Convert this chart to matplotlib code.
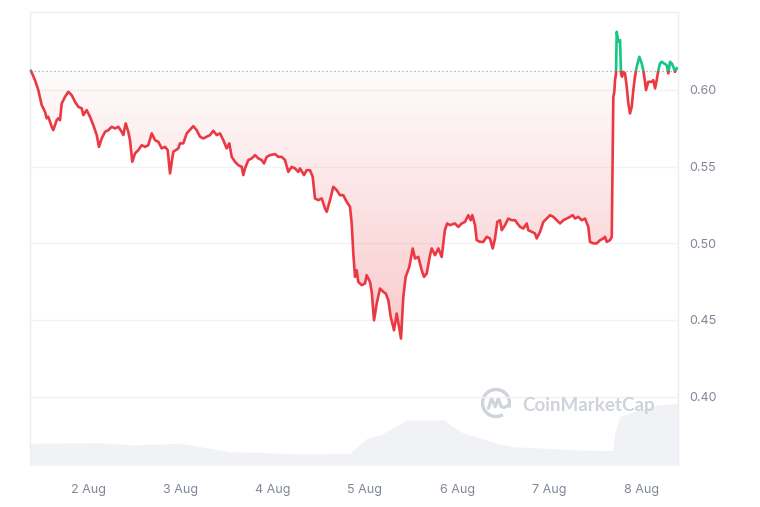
import numpy as np
import matplotlib
matplotlib.use("Agg")
import matplotlib.pyplot as plt
from matplotlib.patches import Rectangle, Arc
from matplotlib.colors import LinearSegmentedColormap

# ---- data: hours since 1 Aug 00:00 and price (USD) ----
hours = [9.09, 10.13, 10.99, 11.87, 12.73, 13.17, 13.59, 14.48, 14.89, 15.78, 16.19, 16.64, 17.08, 17.94,
         18.80, 19.68, 20.54, 21.40, 22.28, 22.70, 23.58, 24.44, 25.30, 26.19, 26.78, 27.49, 28.35, 29.20,
         30.09, 30.95, 31.81, 32.69, 33.11, 33.73, 34.41, 34.85, 35.45, 36.15, 37.01, 37.90, 38.75, 39.61,
         40.50, 41.36, 42.22, 43.10, 43.96, 44.66, 45.26, 46.12, 47.42, 47.86, 48.72, 49.61, 51.32, 52.21,
         53.07, 53.93, 54.81, 55.67, 56.53, 57.41, 58.27, 59.13, 60.01, 60.69, 61.32, 62.17, 63.03, 63.92,
         64.33, 64.78, 65.64, 66.52, 67.38, 68.24, 69.12, 69.72, 70.42, 71.28, 72.58, 73.44, 74.33, 75.19,
         76.04, 76.93, 77.79, 78.65, 79.09, 80.13, 80.83, 81.69, 82.39, 82.99, 83.85, 84.74, 85.59, 86.04,
         86.90, 87.75, 88.64, 89.50, 90.36, 91.24, 92.10, 92.54, 92.96, 93.40, 93.84, 94.26, 95.14, 96.00,
         96.44, 97.30, 97.75, 98.35, 99.05, 99.91, 100.77, 101.39, 102.07, 102.69, 103.55, 104.25, 104.85,
         105.37, 105.97, 106.59, 107.53, 108.41, 109.01, 109.87, 110.76, 111.36, 112.06, 112.92, 113.36,
         114.22, 115.08, 115.96, 116.78, 117.38, 118.09, 119.39, 120.28, 121.16, 122.02, 122.88, 123.51,
         123.92, 124.63, 125.07, 125.93, 126.79, 127.67, 128.53, 129.23, 129.83, 130.43, 131.13, 131.58,
         132.43, 133.29, 134.18, 135.04, 135.64, 136.34, 137.20, 138.08, 138.50, 139.38, 140.24, 140.68,
         141.54, 142.40, 143.29, 144.15, 145.01, 145.89, 146.75, 147.61, 148.49, 149.35, 150.05, 150.65,
         151.51, 152.40, 153.25, 154.11, 154.55, 155.41, 156.30, 157.16, 158.02, 158.46, 158.90, 159.76,
         160.21, 160.47, 160.62, 160.88, 161.06, 161.32, 161.50, 161.84, 162.10, 162.36, 162.62, 162.88,
         163.22, 163.66, 164.10, 164.52, 164.96, 165.40, 165.82, 166.26, 166.70, 167.38, 168.00, 168.42,
         168.86, 169.12, 169.72, 170.61, 171.02, 171.47, 171.91, 172.33, 172.77, 173.21, 173.81, 174.51,
         174.93, 175.37, 175.82, 176.23, 176.67, 177.12]
price = [0.6124, 0.6063, 0.5998, 0.5900, 0.5857, 0.5814, 0.5824, 0.5759, 0.5737, 0.5802, 0.5814, 0.5802,
         0.5911, 0.5954, 0.5987, 0.5965, 0.5922, 0.5889, 0.5879, 0.5835, 0.5868, 0.5824, 0.5770, 0.5705,
         0.5628, 0.5683, 0.5726, 0.5737, 0.5759, 0.5748, 0.5759, 0.5726, 0.5705, 0.5781, 0.5726, 0.5672,
         0.5531, 0.5585, 0.5607, 0.5639, 0.5628, 0.5639, 0.5716, 0.5672, 0.5661, 0.5618, 0.5628, 0.5607,
         0.5455, 0.5596, 0.5618, 0.5651, 0.5651, 0.5716, 0.5763, 0.5737, 0.5694, 0.5683, 0.5694, 0.5705,
         0.5733, 0.5705, 0.5716, 0.5672, 0.5618, 0.5651, 0.5563, 0.5531, 0.5509, 0.5498, 0.5444, 0.5488,
         0.5542, 0.5553, 0.5574, 0.5553, 0.5542, 0.5520, 0.5563, 0.5574, 0.5581, 0.5563, 0.5563, 0.5542,
         0.5465, 0.5498, 0.5488, 0.5465, 0.5488, 0.5444, 0.5476, 0.5476, 0.5433, 0.5292, 0.5281, 0.5292,
         0.5227, 0.5205, 0.5281, 0.5368, 0.5346, 0.5313, 0.5313, 0.5270, 0.5237, 0.5129, 0.4933, 0.4781,
         0.4824, 0.4748, 0.4727, 0.4738, 0.4792, 0.4748, 0.4683, 0.4498, 0.4607, 0.4705, 0.4683, 0.4673,
         0.4629, 0.4520, 0.4433, 0.4542, 0.4455, 0.4379, 0.4650, 0.4781, 0.4846, 0.4966, 0.4901, 0.4911,
         0.4824, 0.4781, 0.4803, 0.4922, 0.4966, 0.4922, 0.4966, 0.4911, 0.5085, 0.5129, 0.5118, 0.5129,
         0.5107, 0.5129, 0.5139, 0.5183, 0.5150, 0.5183, 0.5118, 0.5020, 0.5009, 0.5009, 0.5042, 0.5031,
         0.4966, 0.5031, 0.5139, 0.5150, 0.5085, 0.5118, 0.5161, 0.5150, 0.5150, 0.5129, 0.5107, 0.5096,
         0.5129, 0.5085, 0.5074, 0.5064, 0.5031, 0.5074, 0.5139, 0.5161, 0.5183, 0.5172, 0.5150, 0.5129,
         0.5150, 0.5161, 0.5172, 0.5183, 0.5161, 0.5172, 0.5150, 0.5161, 0.5107, 0.5009, 0.4999, 0.4999,
         0.5020, 0.5031, 0.5042, 0.5009, 0.5020, 0.5042, 0.5585, 0.5954, 0.5987, 0.6063, 0.6107, 0.6378,
         0.6324, 0.6313, 0.6324, 0.6107, 0.6085, 0.6117, 0.6107, 0.6020, 0.5911, 0.5846, 0.5889, 0.5998,
         0.6085, 0.6150, 0.6215, 0.6172, 0.6128, 0.6052, 0.5998, 0.6052, 0.6052, 0.6063, 0.6009, 0.6063,
         0.6128, 0.6172, 0.6183, 0.6172, 0.6161, 0.6107, 0.6183, 0.6172, 0.6150, 0.6117, 0.6140]

# trading volume (relative units)
vol_hours = [8.83, 27.04, 35.63, 47.86, 53.07, 60.87, 70.50, 79.09, 92.10, 93.92, 96.53, 99.91, 103.30,
             106.86, 116.78, 118.09, 121.47, 125.93, 130.27, 134.52, 143.29, 152.14, 160.39, 161.06,
             162.36, 165.74, 171.91, 177.37]
volume = [21.7, 22.3, 20.0, 21.7, 18.3, 13.3, 12.3, 11.0, 11.7, 18.3, 26.7, 30.0, 37.0, 45.0, 45.0, 40.0,
          32.0, 27.0, 21.7, 18.3, 16.7, 15.0, 14.3, 33.3, 48.3, 53.3, 60.0, 61.7]

xtick_hours = [24, 48, 72, 96, 120, 144, 168]
xtick_labels = ["2 Aug", "3 Aug", "4 Aug", "5 Aug", "6 Aug", "7 Aug", "8 Aug"]
ytick_vals = [0.40, 0.45, 0.50, 0.55, 0.60]
ytick_labels = ["0.40", "0.45", "0.50", "0.55", "0.60"]

RED = "#EA3943"
GREEN = "#16C784"
TICK_COLOR = "#7f8796"

t = np.array(hours)
p = np.array(price)
baseline = p[0]
XMIN, XMAX = 8.83, 177.37
YMIN, YMAX = 0.3555, 0.6507

fig = plt.figure(figsize=(7.6, 5.07), dpi=100)
ax = fig.add_axes([30 / 760, 42 / 507, 647.7 / 760, 453 / 507])
axv = ax.twinx()
ax.set_zorder(axv.get_zorder() + 1)
ax.patch.set_visible(False)

# volume
axv.fill_between(vol_hours, 0, volume, color="#f0f2f5", lw=0, zorder=1)
axv.set_ylim(0, 453)
axv.set_yticks([])
for s in axv.spines.values():
    s.set_visible(False)

# gradient fill between baseline and price (below baseline)
clipped = np.minimum(p, baseline)
poly = ax.fill_between(t, clipped, baseline, facecolor="none", lw=0)
im = ax.imshow(np.linspace(0.0, 1.0, 256).reshape(-1, 1), cmap=LinearSegmentedColormap.from_list(
    "g2", [(0.918, 0.224, 0.263, 0.27), (0.918, 0.224, 0.263, 0.02)]),
    extent=[XMIN, XMAX, p.min(), baseline], origin="lower", aspect="auto", zorder=2)
im.set_clip_path(poly.get_paths()[0], transform=ax.transData)

# price line: red below baseline, green above
lr, = ax.plot(t, p, color=RED, lw=1.9, zorder=4, solid_joinstyle="round")
lg, = ax.plot(t, p, color=GREEN, lw=1.9, zorder=4, solid_joinstyle="round")
lr.set_clip_path(Rectangle((XMIN - 5, YMIN - 1), XMAX - XMIN + 10, baseline - YMIN + 1, transform=ax.transData))
lg.set_clip_path(Rectangle((XMIN - 5, baseline), XMAX - XMIN + 10, 1, transform=ax.transData))

ax.axhline(baseline, color="#9aa1ac", lw=0.9, ls=(0, (1, 2.2)), zorder=3)

ax.set_xlim(XMIN, XMAX)
ax.set_ylim(YMIN, YMAX)
ax.set_xticks(xtick_hours)
ax.set_xticklabels(xtick_labels)
ax.set_yticks(ytick_vals)
ax.set_yticklabels(ytick_labels)
ax.yaxis.tick_right()
ax.tick_params(axis="both", length=0, colors=TICK_COLOR, labelsize=9)
ax.tick_params(axis="y", pad=8)
ax.tick_params(axis="x", pad=14)
for lab in ax.get_xticklabels() + ax.get_yticklabels():
    lab.set_fontfamily("Inter")
ax.grid(axis="y", color="#f2f3f5", lw=1)
ax.set_axisbelow(True)
for name, s in ax.spines.items():
    s.set_color("#eceef1")
    s.set_linewidth(1)
ax.spines["bottom"].set_visible(False)

# watermark
fig.text(522 / 760, 1 - 406 / 507, "CoinMarketCap", fontsize=13.5, color="#cfd3da",
         fontfamily="Lato", fontweight="bold", va="center", ha="left")
lax = fig.add_axes([481 / 760, (507 - 418) / 507, 30 / 760, 30 / 507])
lax.set_xlim(-1, 1)
lax.set_ylim(-1, 1)
lax.axis("off")
lax.add_patch(Arc((0, 0), 1.8, 1.8, theta1=-20, theta2=300, color="#cfd3da", lw=2.4))
lax.plot([-0.5, -0.3, -0.05, 0.15, 0.35, 0.55, 0.8], [-0.35, 0.3, -0.25, 0.3, -0.25, -0.3, -0.15],
         color="#cfd3da", lw=2.2, solid_capstyle="round", solid_joinstyle="round")

fig.savefig("out.png", dpi=100)
